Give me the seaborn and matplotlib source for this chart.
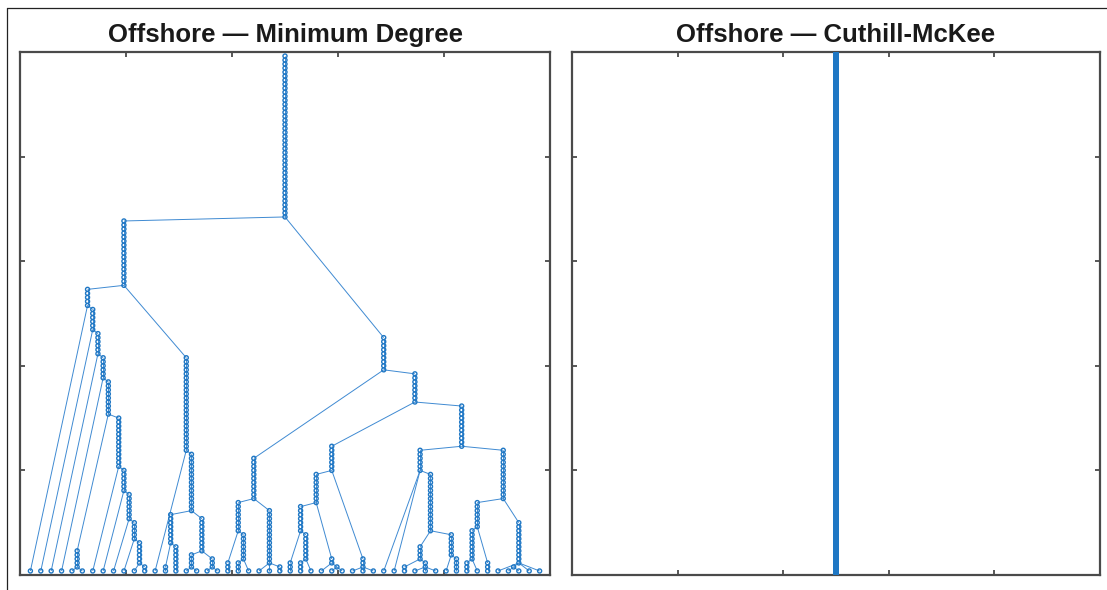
import numpy as np
import pandas as pd
import matplotlib
matplotlib.use("Agg")
import matplotlib.pyplot as plt
from matplotlib.collections import LineCollection
from matplotlib.lines import Line2D
import seaborn as sns

# Minimum-degree elimination tree, stored as chains of single-child nodes.
# Each chain hangs below the bottom node of its parent chain; children of a
# chain are listed in left-to-right order.
md_chain_name = [
    "root", "C0", "C1", "l01", "C2", "l02", "C3", "l03", "C4", "l04",
    "C5", "D56", "l05", "l06", "C6", "l07", "C7", "l08", "C8", "l09",
    "C9", "l10", "C10", "l11", "l12",
    "B", "l13", "B2", "B3", "l14", "l15", "B4", "D1617", "l16", "l17",
    "D1819", "l18", "l19",
    "R", "R1", "R1a", "l20", "D2122", "l21", "l22", "R1b", "l23", "l24", "l25",
    "R2", "R3", "R3a", "R3b", "l26", "R3c", "l27", "l28", "P", "l29", "Q",
    "l30", "l31", "S", "l32", "l33", "l34",
    "R4", "R5", "l35", "l36", "R5a", "T", "l37", "U", "l38", "l39", "l40",
    "V", "l41", "l42",
    "R6", "R6a", "R6a1", "l43", "l44", "l45", "R6b", "l46", "N", "l47", "l48",
    "l49", "l50",
]
md_chain_parent = [
    None, "root", "C0", "C1", "C1", "C2", "C2", "C3", "C3", "C4",
    "C4", "C5", "D56", "D56", "C5", "C6", "C6", "C7", "C7", "C8",
    "C8", "C9", "C9", "C10", "C10",
    "C0", "B", "B", "B2", "B3", "B3", "B2", "B4", "D1617", "D1617",
    "B4", "D1819", "D1819",
    "root", "R", "R1", "R1a", "R1a", "D2122", "D2122", "R1", "R1b", "R1b", "R1b",
    "R", "R2", "R3", "R3a", "R3b", "R3b", "R3c", "R3c", "R3a", "P", "P",
    "Q", "Q", "R3", "S", "S", "S",
    "R2", "R4", "R5", "R5", "R5", "R5a", "T", "T", "U", "U", "U",
    "R5a", "V", "V",
    "R4", "R6", "R6a", "R6a1", "R6a1", "R6a", "R6", "R6b", "R6b", "N", "N",
    "R6b", "R6b",
]
md_chain_size = [
    41, 17, 5, 1, 6, 1, 6, 1, 6, 1,
    9, 5, 1, 1, 13, 1, 6, 1, 7, 1,
    5, 1, 6, 1, 2,
    24, 1, 15, 8, 2, 7, 9, 4, 1, 1,
    3, 1, 1,
    9, 11, 8, 3, 7, 3, 1, 14, 1, 1, 2,
    8, 7, 8, 7, 3, 7, 3, 1, 2, 1, 1,
    1, 1, 3, 1, 1, 1,
    11, 6, 1, 1, 15, 4, 2, 2, 1, 1, 1,
    6, 1, 4,
    13, 7, 8, 3, 1, 3, 11, 1, 1, 1, 1,
    1, 1,
]

# Cuthill-McKee ordering: the elimination tree is one long path
cm_chain_name = ["path"]
cm_chain_parent = [None]
cm_chain_size = [1500]

panel_titles = ["Offshore \u2014 Minimum Degree", "Offshore \u2014 Cuthill-McKee"]
tick_values = [0.2, 0.4, 0.6, 0.8]

NODE_BLUE = "#1f77c4"
EDGE_BLUE = "#3f8ad2"
FRAME = "#4a4a4a"


def tree_layout(names, parents, sizes):
    """Leaves evenly spaced in depth-first order; a node sits midway between
    its outermost leaves and at a level equal to its height above the leaves."""
    children = {n: [] for n in names}
    root = None
    for n, p in zip(names, parents):
        if p is None:
            root = n
        else:
            children[p].append(n)
    size = dict(zip(names, sizes))

    leaves = []

    def collect(n):
        if not children[n]:
            leaves.append(n)
        for c in children[n]:
            collect(c)

    collect(root)
    nleaf = len(leaves)
    leaf_x = {n: (i + 1) / (nleaf + 1) for i, n in enumerate(leaves)}

    xpos, bottom, top = {}, {}, {}

    def place(n):
        if not children[n]:
            lo = hi = leaf_x[n]
            bottom[n] = 0
        else:
            spans = [place(c) for c in children[n]]
            lo = min(s[0] for s in spans)
            hi = max(s[1] for s in spans)
            bottom[n] = 1 + max(top[c] for c in children[n])
        top[n] = bottom[n] + size[n] - 1
        xpos[n] = (lo + hi) / 2
        return lo, hi

    place(root)
    levels = top[root] + 2

    def yof(h):
        return (h + 1) / levels

    rows, segs = [], []
    for n, p in zip(names, parents):
        for h in range(bottom[n], top[n] + 1):
            rows.append((xpos[n], yof(h)))
        if top[n] > bottom[n]:
            segs.append([(xpos[n], yof(bottom[n])), (xpos[n], yof(top[n]))])
        if p is not None:
            segs.append([(xpos[n], yof(top[n])), (xpos[p], yof(bottom[p]))])
    nodes = pd.DataFrame(rows, columns=["x", "y"])
    return nodes, segs


sns.set_theme(style="white")
plt.rcParams["font.family"] = ["Liberation Sans", "DejaVu Sans"]

W, H = 1107, 590
fig = plt.figure(figsize=(W / 100, H / 100), dpi=100)
ax_rects = [
    (20 / W, (H - 575) / H, 530 / W, 523 / H),
    (572 / W, (H - 575) / H, 528 / W, 523 / H),
]

trees = [
    tree_layout(md_chain_name, md_chain_parent, md_chain_size),
    tree_layout(cm_chain_name, cm_chain_parent, cm_chain_size),
]

for rect, (nodes, segs), title in zip(ax_rects, trees, panel_titles):
    ax = fig.add_axes(rect)
    ax.add_collection(LineCollection(segs, colors=EDGE_BLUE, linewidths=0.7, zorder=2))
    sns.scatterplot(data=nodes, x="x", y="y", ax=ax, marker="o", s=8.5,
                    facecolor="none", edgecolor=NODE_BLUE, linewidth=1.0,
                    legend=False, zorder=3)
    ax.set_xlim(0, 1)
    ax.set_ylim(0, 1)
    ax.set_xticks(tick_values)
    ax.set_yticks(tick_values)
    ax.set_xticklabels([])
    ax.set_yticklabels([])
    ax.set_xlabel("")
    ax.set_ylabel("")
    ax.tick_params(direction="in", length=3.8, width=1.3, color=FRAME,
                   top=True, right=True, bottom=True, left=True)
    for sp in ax.spines.values():
        sp.set_visible(True)
        sp.set_color(FRAME)
        sp.set_linewidth(1.6)
    ax.set_title(title, fontsize=18.5, fontweight="bold", color="#1a1a1a", pad=7.5)

# thin outer frame along the top and left edges
fig.add_artist(Line2D([7 / W, 1.0], [1 - 8 / H, 1 - 8 / H], color="#222222", lw=0.9))
fig.add_artist(Line2D([7 / W, 7 / W], [0.0, 1 - 8 / H], color="#222222", lw=0.9))

fig.savefig("out.png", dpi=100, facecolor="white")
